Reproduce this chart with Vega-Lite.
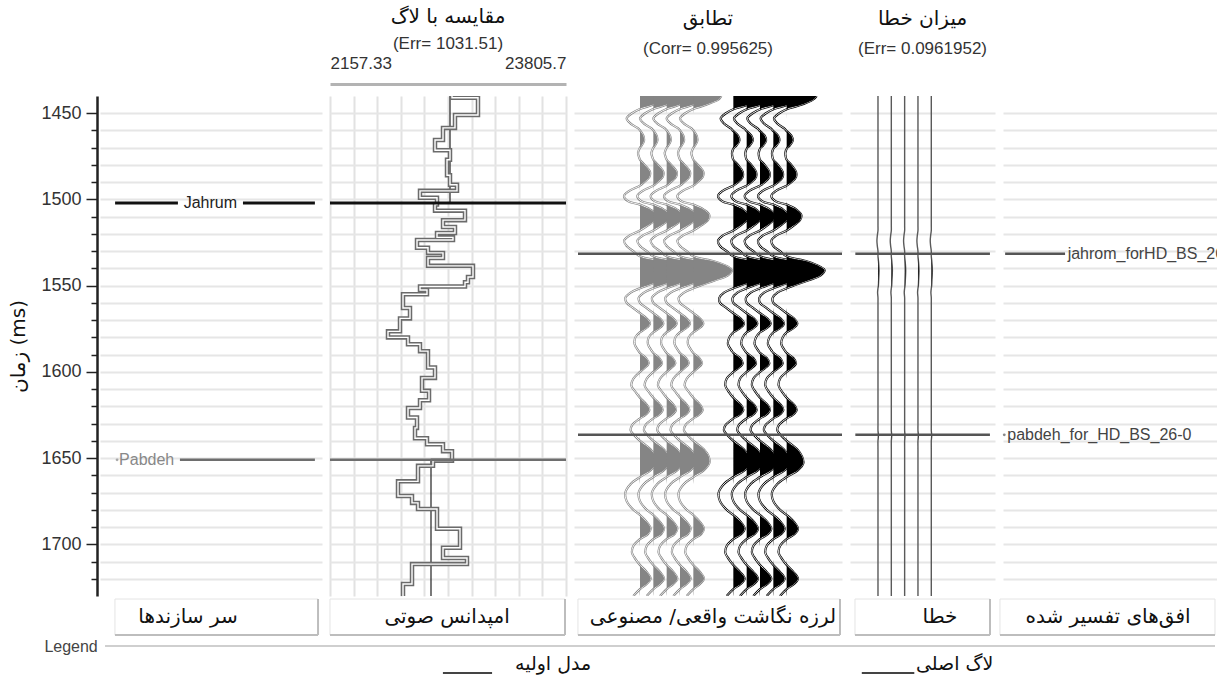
{
  "$schema": "https://vega.github.io/schema/vega-lite/v6.json",
  "background": "white",
  "padding": {"left": 8, "top": 7, "right": 0, "bottom": 0},
  "config": {
    "view": {"stroke": null},
    "axis": {"labelFont": "Liberation Sans", "titleFont": "DejaVu Sans"},
    "title": {"font": "DejaVu Sans", "fontSize": 20, "fontWeight": "normal", "color": "#111", "subtitleFont": "Liberation Sans", "subtitleFontSize": 17, "subtitleColor": "#333", "subtitlePadding": 12, "anchor": "middle"}
  },
  "datasets": {
    "tops": [{"top": "Jahrum", "t": 1502}, {"top": "Pabdeh", "t": 1651}],
    "hz": [{"hz": "jahrom_forHD_BS_26-0", "t": 1531.5}, {"hz": "pabdeh_for_HD_BS_26-0", "t": 1636.5}],
    "model": [
      {"t": 1440, "imp": 13165}, {"t": 1502, "imp": 11789}, {"t": 1506.5, "imp": 14541}, {"t": 1512, "imp": 12523},
      {"t": 1516, "imp": 13623}, {"t": 1519.5, "imp": 11973}, {"t": 1522, "imp": 13440}, {"t": 1523.5, "imp": 10138},
      {"t": 1528, "imp": 11147}, {"t": 1531, "imp": 12523}, {"t": 1534, "imp": 11147}, {"t": 1538.5, "imp": 15275},
      {"t": 1545, "imp": 14816}, {"t": 1548, "imp": 14541}, {"t": 1550.5, "imp": 10413}, {"t": 1552.5, "imp": 11055},
      {"t": 1555, "imp": 8854}, {"t": 1563, "imp": 9496}, {"t": 1569, "imp": 8578}, {"t": 1576.5, "imp": 7477},
      {"t": 1580, "imp": 9312}, {"t": 1584, "imp": 10413}, {"t": 1588, "imp": 11147}, {"t": 1597.5, "imp": 11789},
      {"t": 1603.5, "imp": 10597}, {"t": 1611, "imp": 11239}, {"t": 1616.5, "imp": 10413}, {"t": 1621, "imp": 9312},
      {"t": 1626.5, "imp": 10138}, {"t": 1632.5, "imp": 9955}, {"t": 1638.5, "imp": 11055}, {"t": 1642, "imp": 12523},
      {"t": 1646, "imp": 13348}, {"t": 1651, "imp": 11422}, {"t": 1730, "imp": 11422}
    ],
    "log": [
      {"t": 1440, "imp": 13348}, {"t": 1441, "imp": 15733}, {"t": 1451, "imp": 13623}, {"t": 1458.5, "imp": 12523},
      {"t": 1465.5, "imp": 11789}, {"t": 1471.5, "imp": 13165}, {"t": 1477, "imp": 12890}, {"t": 1486, "imp": 13165},
      {"t": 1491.5, "imp": 13807}, {"t": 1495, "imp": 10413}, {"t": 1499, "imp": 11973}, {"t": 1503, "imp": 11789},
      {"t": 1506.5, "imp": 14541}, {"t": 1512, "imp": 12523}, {"t": 1516, "imp": 13623}, {"t": 1519.5, "imp": 11973},
      {"t": 1522, "imp": 13440}, {"t": 1523.5, "imp": 10138}, {"t": 1528, "imp": 11147}, {"t": 1531, "imp": 12523},
      {"t": 1534, "imp": 11147}, {"t": 1538.5, "imp": 15275}, {"t": 1545, "imp": 14816}, {"t": 1548, "imp": 14541},
      {"t": 1550.5, "imp": 10413}, {"t": 1552.5, "imp": 11055}, {"t": 1555, "imp": 8854}, {"t": 1563, "imp": 9496},
      {"t": 1569, "imp": 8578}, {"t": 1576.5, "imp": 7477}, {"t": 1580, "imp": 9312}, {"t": 1584, "imp": 10413},
      {"t": 1588, "imp": 11147}, {"t": 1597.5, "imp": 11789}, {"t": 1603.5, "imp": 10597}, {"t": 1611, "imp": 11239},
      {"t": 1616.5, "imp": 10413}, {"t": 1621, "imp": 9312}, {"t": 1626.5, "imp": 10138}, {"t": 1632.5, "imp": 9955},
      {"t": 1638.5, "imp": 11055}, {"t": 1642, "imp": 12523}, {"t": 1646, "imp": 13348}, {"t": 1651.5, "imp": 11606},
      {"t": 1654.5, "imp": 10230}, {"t": 1663.5, "imp": 8395}, {"t": 1672, "imp": 9680}, {"t": 1676, "imp": 10230},
      {"t": 1679.5, "imp": 11973}, {"t": 1691, "imp": 14082}, {"t": 1702, "imp": 12523}, {"t": 1708, "imp": 14724},
      {"t": 1711.5, "imp": 9680}, {"t": 1723, "imp": 8854}, {"t": 1730, "imp": 8854}
    ],
    "wave": [
      {"t": 1440, "s": 2.1, "r": 2.25, "e": 0}, {"t": 1442, "s": 1.9, "r": 2.0, "e": 0}, {"t": 1444, "s": 1.3, "r": 1.45, "e": 0},
      {"t": 1446, "s": 0.6, "r": 0.7, "e": 0}, {"t": 1447.5, "s": 0, "r": 0.05, "e": 0}, {"t": 1450, "s": -0.6, "r": -0.55, "e": 0},
      {"t": 1453, "s": -1.0, "r": -0.95, "e": 0}, {"t": 1456, "s": -0.7, "r": -0.7, "e": 0}, {"t": 1459, "s": -0.1, "r": -0.15, "e": 0},
      {"t": 1460, "s": 0, "r": -0.05, "e": 0}, {"t": 1463, "s": 0.25, "r": 0.35, "e": 0}, {"t": 1466, "s": 0.3, "r": 0.45, "e": 0},
      {"t": 1469, "s": 0.1, "r": 0.2, "e": 0}, {"t": 1470, "s": 0, "r": 0.05, "e": 0}, {"t": 1473, "s": -0.15, "r": -0.1, "e": 0},
      {"t": 1476, "s": -0.05, "r": -0.05, "e": 0}, {"t": 1477, "s": 0, "r": 0, "e": 0}, {"t": 1480, "s": 0.35, "r": 0.35, "e": 0},
      {"t": 1484, "s": 0.75, "r": 0.7, "e": 0}, {"t": 1487, "s": 0.7, "r": 0.7, "e": 0}, {"t": 1490, "s": 0.3, "r": 0.35, "e": 0},
      {"t": 1492, "s": 0, "r": 0, "e": 0}, {"t": 1495, "s": -0.8, "r": -0.8, "e": 0}, {"t": 1498, "s": -1.2, "r": -1.15, "e": 0},
      {"t": 1501, "s": -0.9, "r": -0.85, "e": 0}, {"t": 1503, "s": 0, "r": 0, "e": 0}, {"t": 1506, "s": 0.8, "r": 0.75, "e": 0},
      {"t": 1509, "s": 1.2, "r": 1.1, "e": 0}, {"t": 1512, "s": 1.1, "r": 1.0, "e": 0}, {"t": 1515, "s": 0.6, "r": 0.55, "e": 0},
      {"t": 1518, "s": 0, "r": 0, "e": 0}, {"t": 1521, "s": -0.8, "r": -0.8, "e": -0.05}, {"t": 1524, "s": -1.2, "r": -1.15, "e": -0.08},
      {"t": 1527, "s": -1.0, "r": -1.0, "e": -0.05}, {"t": 1530, "s": -0.5, "r": -0.5, "e": 0}, {"t": 1533, "s": 0, "r": 0, "e": 0},
      {"t": 1536, "s": 1.6, "r": 1.55, "e": 0.04}, {"t": 1539, "s": 2.6, "r": 2.5, "e": 0.07}, {"t": 1541, "s": 2.9, "r": 2.85, "e": 0.08},
      {"t": 1544, "s": 2.6, "r": 2.55, "e": 0.07}, {"t": 1547, "s": 1.6, "r": 1.6, "e": 0.05}, {"t": 1550, "s": 0.5, "r": 0.5, "e": 0.03},
      {"t": 1551.5, "s": 0, "r": 0, "e": 0}, {"t": 1554, "s": -0.7, "r": -0.7, "e": -0.03}, {"t": 1557, "s": -1.1, "r": -1.05, "e": 0},
      {"t": 1560, "s": -1.0, "r": -1.0, "e": 0}, {"t": 1563, "s": -0.5, "r": -0.5, "e": 0}, {"t": 1566, "s": 0, "r": 0, "e": 0},
      {"t": 1569, "s": 0.5, "r": 0.55, "e": 0}, {"t": 1572, "s": 0.75, "r": 0.8, "e": 0}, {"t": 1575, "s": 0.4, "r": 0.45, "e": 0},
      {"t": 1577, "s": 0, "r": 0, "e": 0}, {"t": 1580, "s": -0.35, "r": -0.3, "e": 0}, {"t": 1584, "s": -0.4, "r": -0.4, "e": 0},
      {"t": 1588, "s": -0.1, "r": -0.1, "e": 0}, {"t": 1589, "s": 0, "r": 0, "e": 0}, {"t": 1592, "s": 0.45, "r": 0.5, "e": 0},
      {"t": 1595, "s": 0.65, "r": 0.7, "e": 0}, {"t": 1598, "s": 0.3, "r": 0.35, "e": 0}, {"t": 1600, "s": 0, "r": 0, "e": 0},
      {"t": 1604, "s": -0.5, "r": -0.5, "e": 0}, {"t": 1608, "s": -0.65, "r": -0.6, "e": 0}, {"t": 1612, "s": -0.3, "r": -0.3, "e": 0},
      {"t": 1615, "s": 0, "r": 0, "e": 0}, {"t": 1619, "s": 0.5, "r": 0.55, "e": 0}, {"t": 1622, "s": 0.7, "r": 0.75, "e": 0},
      {"t": 1625, "s": 0.4, "r": 0.45, "e": 0}, {"t": 1627, "s": 0, "r": 0, "e": 0}, {"t": 1631, "s": -0.6, "r": -0.6, "e": 0},
      {"t": 1634, "s": -0.7, "r": -0.7, "e": 0}, {"t": 1637, "s": -0.4, "r": -0.4, "e": 0.03}, {"t": 1640, "s": 0, "r": 0, "e": 0},
      {"t": 1645, "s": 0.8, "r": 0.8, "e": 0}, {"t": 1649, "s": 1.15, "r": 1.15, "e": 0}, {"t": 1653, "s": 1.2, "r": 1.25, "e": 0},
      {"t": 1657, "s": 0.8, "r": 0.85, "e": 0}, {"t": 1661, "s": 0, "r": 0, "e": 0}, {"t": 1665, "s": -0.7, "r": -0.7, "e": 0},
      {"t": 1670, "s": -1.1, "r": -1.1, "e": 0}, {"t": 1675, "s": -1.0, "r": -1.0, "e": 0}, {"t": 1680, "s": -0.5, "r": -0.5, "e": 0},
      {"t": 1683, "s": 0, "r": 0, "e": 0}, {"t": 1687, "s": 0.5, "r": 0.55, "e": 0}, {"t": 1691, "s": 0.8, "r": 0.85, "e": 0},
      {"t": 1694, "s": 0.6, "r": 0.6, "e": 0}, {"t": 1697, "s": 0, "r": 0, "e": 0}, {"t": 1701, "s": -0.5, "r": -0.5, "e": 0},
      {"t": 1705, "s": -0.6, "r": -0.6, "e": 0}, {"t": 1709, "s": -0.3, "r": -0.3, "e": 0}, {"t": 1712, "s": 0, "r": 0, "e": 0},
      {"t": 1716, "s": 0.5, "r": 0.5, "e": 0}, {"t": 1720, "s": 0.8, "r": 0.85, "e": 0}, {"t": 1723, "s": 0.5, "r": 0.55, "e": 0},
      {"t": 1726, "s": 0, "r": 0, "e": 0}, {"t": 1730, "s": -0.5, "r": -0.5, "e": 0}
    ]
  },
  "vconcat": [
    {
      "hconcat": [
        {
          "width": 222, "height": 500,
          "encoding": {"y": {"field": "t", "type": "quantitative", "scale": {"domain": [1440, 1730], "reverse": true, "nice": false, "zero": false},
            "axis": {"orient": "left", "values": [1450,1460,1470,1480,1490,1500,1510,1520,1530,1540,1550,1560,1570,1580,1590,1600,1610,1620,1630,1640,1650,1660,1670,1680,1690,1700,1710,1720],
              "tickCount": 40,
              "labelExpr": "datum.value % 50 === 0 ? format(datum.value, 'd') : ''",
              "tickSize": {"condition": {"test": "datum.value % 50 === 0", "value": 11}, "value": 6},
              "tickColor": "#222", "tickWidth": 1.5, "domainColor": "#222", "domainWidth": 2.5, "offset": 3,
              "grid": true, "gridColor": "#e6e6e6", "gridWidth": 2,
              "labelFontSize": 18, "labelColor": "#333", "labelPadding": 5, "labelOverlap": false,
              "title": "زمان (ms)", "titleFontSize": 20, "titleFontWeight": "normal", "titleColor": "#111", "titlePadding": 12}}},
          "layer": [
            {"data": {"values": [{}]}, "mark": {"type": "rule", "color": "#8a8a8a", "strokeWidth": 1.5},
             "encoding": {"x": {"datum": 0, "type": "quantitative", "scale": {"domain": [0, 100], "nice": false, "zero": false}, "axis": null}, "y": {"datum": 1440}, "y2": {"datum": 1730}}},
            {"data": {"values": [{}]}, "mark": {"type": "rule", "color": "#5c5c5c", "strokeWidth": 2}, "encoding": {"y": {"datum": 1440}}},
            {"data": {"name": "tops"}, "transform": [{"filter": "datum.top === 'Jahrum'"}], "mark": {"type": "rule", "color": "#111", "strokeWidth": 3},
             "encoding": {"x": {"datum": 6.8}, "x2": {"datum": 35.1}}},
            {"data": {"name": "tops"}, "transform": [{"filter": "datum.top === 'Jahrum'"}], "mark": {"type": "rule", "color": "#111", "strokeWidth": 3},
             "encoding": {"x": {"datum": 64.4}, "x2": {"datum": 96.8}}},
            {"data": {"name": "tops"}, "transform": [{"filter": "datum.top === 'Jahrum'"}], "mark": {"type": "text", "font": "Liberation Sans", "fontSize": 16, "color": "#222", "align": "center", "baseline": "middle"},
             "encoding": {"x": {"datum": 49.7}, "text": {"field": "top"}}},
            {"data": {"name": "tops"}, "transform": [{"filter": "datum.top === 'Pabdeh'"}], "mark": {"type": "point", "filled": true, "size": 8, "color": "#888"},
             "encoding": {"x": {"datum": 7.7}}},
            {"data": {"name": "tops"}, "transform": [{"filter": "datum.top === 'Pabdeh'"}], "mark": {"type": "text", "font": "Liberation Sans", "fontSize": 16, "color": "#888", "align": "left", "baseline": "middle"},
             "encoding": {"x": {"datum": 8.6}, "text": {"field": "top"}}},
            {"data": {"name": "tops"}, "transform": [{"filter": "datum.top === 'Pabdeh'"}], "mark": {"type": "rule", "color": "#6e6e6e", "strokeWidth": 2.5},
             "encoding": {"x": {"datum": 36}, "x2": {"datum": 96.8}}}
          ]
        },
        {
          "width": 236, "height": 500,
          "title": {"text": "مقایسه با لاگ", "subtitle": "(Err= 1031.51)", "offset": 2, "subtitlePadding": 9},
          "encoding": {"y": {"field": "t", "type": "quantitative", "scale": {"domain": [1440, 1730], "reverse": true, "nice": false, "zero": false},
            "axis": {"values": [1450,1460,1470,1480,1490,1500,1510,1520,1530,1540,1550,1560,1570,1580,1590,1600,1610,1620,1630,1640,1650,1660,1670,1680,1690,1700,1710,1720],
              "tickCount": 40, "grid": true, "gridColor": "#e6e6e6", "gridWidth": 2, "labels": false, "ticks": false, "domain": false, "title": null}}},
          "layer": [
            {"data": {"name": "model"}, "mark": {"type": "line", "color": "#222", "strokeWidth": 1.2, "interpolate": "step-before", "clip": true},
             "encoding": {"x": {"field": "imp", "type": "quantitative", "scale": {"domain": [2157.33, 23805.7], "nice": false, "zero": false},
               "axis": {"orient": "top", "values": [2157.33, 4322.17, 6487.0, 8651.84, 10816.67, 12981.52, 15146.35, 17311.19, 19476.03, 21640.86, 23805.7],
                 "tickCount": 20, "grid": true, "gridColor": "#e2e2e2", "gridWidth": 2, "ticks": false, "labelFlush": true, "labelOverlap": false,
                 "labelExpr": "datum.value < 3000 ? '2157.33' : datum.value > 23000 ? '23805.7' : ''",
                 "labelFontSize": 17, "labelColor": "#333", "labelPadding": 12, "domainColor": "#b3b3b3", "domainWidth": 3, "offset": 12, "title": null}},
               "order": {"field": "t", "type": "quantitative"}}},
            {"data": {"name": "log"}, "mark": {"type": "line", "color": "#6b6b6b", "strokeWidth": 4.5, "interpolate": "step-before", "clip": true},
             "encoding": {"x": {"field": "imp", "type": "quantitative"}, "order": {"field": "t", "type": "quantitative"}}},
            {"data": {"name": "log"}, "mark": {"type": "line", "color": "#ffffff", "strokeWidth": 1.4, "interpolate": "step-before", "clip": true},
             "encoding": {"x": {"field": "imp", "type": "quantitative"}, "order": {"field": "t", "type": "quantitative"}}},
            {"data": {"values": [{}]}, "mark": {"type": "rule", "color": "#5c5c5c", "strokeWidth": 2}, "encoding": {"y": {"datum": 1440}}},
            {"data": {"name": "tops"}, "transform": [{"filter": "datum.top === 'Jahrum'"}], "mark": {"type": "rule", "color": "#111", "strokeWidth": 3}},
            {"data": {"name": "tops"}, "transform": [{"filter": "datum.top === 'Pabdeh'"}], "mark": {"type": "rule", "color": "#6e6e6e", "strokeWidth": 2.5}}
          ]
        },
        {
          "width": 268, "height": 500,
          "title": {"text": "تطابق", "subtitle": "(Corr= 0.995625)", "offset": 39},
          "encoding": {"y": {"field": "t", "type": "quantitative", "scale": {"domain": [1440, 1730], "reverse": true, "nice": false, "zero": false},
            "axis": {"values": [1450,1460,1470,1480,1490,1500,1510,1520,1530,1540,1550,1560,1570,1580,1590,1600,1610,1620,1630,1640,1650,1660,1670,1680,1690,1700,1710,1720],
              "tickCount": 40, "grid": true, "gridColor": "#e6e6e6", "gridWidth": 2, "labels": false, "ticks": false, "domain": false, "title": null}}},
          "layer": [
            {"data": {"values": [{}]}, "mark": {"type": "rule", "color": "#5c5c5c", "strokeWidth": 2}, "encoding": {"y": {"datum": 1440}}},
            {"data": {"name": "wave"},
             "transform": [{"fold": ["s", "r"], "as": ["grp", "amp"]}, {"calculate": "datum.grp === 's' ? [5,6,7,8,9] : [12,13,14,15,16]", "as": "tr"}, {"flatten": ["tr"]},
               {"calculate": "datum.tr + datum.amp", "as": "xw"}],
             "mark": {"type": "line", "strokeWidth": 2.2, "interpolate": "catmull-rom", "clip": true},
             "encoding": {"x": {"field": "xw", "type": "quantitative", "scale": {"domain": [0.05, 20.15], "nice": false, "zero": false}, "axis": null},
               "detail": {"field": "tr", "type": "nominal"},
               "color": {"field": "grp", "type": "nominal", "scale": {"domain": ["s", "r"], "range": ["#858585", "#000000"]}, "legend": null},
               "order": {"field": "t", "type": "quantitative"}}},
            {"data": {"name": "wave"},
             "transform": [{"fold": ["s", "r"], "as": ["grp", "amp"]}, {"calculate": "datum.grp === 's' ? [5,6,7,8,9] : [12,13,14,15,16]", "as": "tr"}, {"flatten": ["tr"]},
               {"calculate": "datum.tr + datum.amp", "as": "xw"}],
             "mark": {"type": "line", "strokeWidth": 0.9, "color": "#ffffff", "interpolate": "catmull-rom", "clip": true},
             "encoding": {"x": {"field": "xw", "type": "quantitative"},
               "detail": [{"field": "grp", "type": "nominal"}, {"field": "tr", "type": "nominal"}],
               "order": {"field": "t", "type": "quantitative"}}},
            {"data": {"name": "wave"},
             "transform": [{"fold": ["s", "r"], "as": ["grp", "amp"]}, {"calculate": "datum.grp === 's' ? [5,6,7,8,9] : [12,13,14,15,16]", "as": "tr"}, {"flatten": ["tr"]},
               {"calculate": "datum.tr + max(datum.amp, 0)", "as": "xf"}],
             "mark": {"type": "area", "orient": "horizontal", "interpolate": "catmull-rom", "clip": true},
             "encoding": {"x": {"field": "xf", "type": "quantitative"}, "x2": {"field": "tr"},
               "detail": {"field": "tr", "type": "nominal"},
               "color": {"field": "grp", "type": "nominal", "legend": null}}},
            {"data": {"name": "hz"}, "mark": {"type": "rule", "color": "#555", "strokeWidth": 2.5},
             "encoding": {"x": {"datum": 0.35}, "x2": {"datum": 20.15}}}
          ]
        },
        {
          "width": 145, "height": 500,
          "title": {"text": "میزان خطا", "subtitle": "(Err= 0.0961952)", "offset": 39},
          "encoding": {"y": {"field": "t", "type": "quantitative", "scale": {"domain": [1440, 1730], "reverse": true, "nice": false, "zero": false},
            "axis": {"values": [1450,1460,1470,1480,1490,1500,1510,1520,1530,1540,1550,1560,1570,1580,1590,1600,1610,1620,1630,1640,1650,1660,1670,1680,1690,1700,1710,1720],
              "tickCount": 40, "grid": true, "gridColor": "#e6e6e6", "gridWidth": 2, "labels": false, "ticks": false, "domain": false, "title": null}}},
          "layer": [
            {"data": {"values": [{}]}, "mark": {"type": "rule", "color": "#5c5c5c", "strokeWidth": 2}, "encoding": {"y": {"datum": 1440}}},
            {"data": {"name": "wave"},
             "transform": [{"calculate": "[2,3,4,5,6]", "as": "tr"}, {"flatten": ["tr"]}, {"calculate": "datum.tr + datum.e", "as": "xw"}],
             "mark": {"type": "line", "strokeWidth": 1.4, "color": "#5a5a5a", "interpolate": "catmull-rom", "clip": true},
             "encoding": {"x": {"field": "xw", "type": "quantitative", "scale": {"domain": [-0.1, 10.78], "nice": false, "zero": false}, "axis": null},
               "detail": {"field": "tr", "type": "nominal"}, "order": {"field": "t", "type": "quantitative"}}},
            {"data": {"name": "wave"},
             "transform": [{"calculate": "[2,3,4,5,6]", "as": "tr"}, {"flatten": ["tr"]}, {"calculate": "datum.tr + max(datum.e, 0)", "as": "xf"}],
             "mark": {"type": "area", "orient": "horizontal", "interpolate": "catmull-rom", "color": "#222", "clip": true},
             "encoding": {"x": {"field": "xf", "type": "quantitative"}, "x2": {"field": "tr"}, "detail": {"field": "tr", "type": "nominal"}}},
            {"data": {"name": "hz"}, "mark": {"type": "rule", "color": "#555", "strokeWidth": 2.5},
             "encoding": {"x": {"datum": 0.3}, "x2": {"datum": 10.4}}}
          ]
        },
        {
          "width": 214, "height": 500,
          "encoding": {"y": {"field": "t", "type": "quantitative", "scale": {"domain": [1440, 1730], "reverse": true, "nice": false, "zero": false},
            "axis": {"values": [1450,1460,1470,1480,1490,1500,1510,1520,1530,1540,1550,1560,1570,1580,1590,1600,1610,1620,1630,1640,1650,1660,1670,1680,1690,1700,1710,1720],
              "tickCount": 40, "grid": true, "gridColor": "#e6e6e6", "gridWidth": 2, "labels": false, "ticks": false, "domain": false, "title": null}}},
          "layer": [
            {"data": {"values": [{}]}, "mark": {"type": "rule", "color": "#5c5c5c", "strokeWidth": 2}, "encoding": {"y": {"datum": 1440}}},
            {"data": {"values": [{}]}, "mark": {"type": "rule", "color": "#8a8a8a", "strokeWidth": 1.5},
             "encoding": {"x": {"datum": 0.953, "type": "quantitative", "scale": {"domain": [0, 1], "nice": false, "zero": false}, "axis": null}, "y": {"datum": 1440}, "y2": {"datum": 1730}}},
            {"data": {"name": "hz"}, "transform": [{"filter": "indexof(datum.hz, 'jahrom') === 0"}], "mark": {"type": "rule", "color": "#555", "strokeWidth": 2.5},
             "encoding": {"x": {"datum": 0.01}, "x2": {"datum": 0.29}}},
            {"data": {"name": "hz"}, "transform": [{"filter": "indexof(datum.hz, 'jahrom') === 0"}], "mark": {"type": "text", "font": "Liberation Sans", "fontSize": 16, "color": "#444", "align": "left", "baseline": "middle", "clip": true},
             "encoding": {"x": {"datum": 0.302}, "text": {"field": "hz"}}},
            {"data": {"name": "hz"}, "transform": [{"filter": "indexof(datum.hz, 'pabdeh') === 0"}], "mark": {"type": "point", "filled": true, "size": 8, "color": "#555"},
             "encoding": {"x": {"datum": 0.006}}},
            {"data": {"name": "hz"}, "transform": [{"filter": "indexof(datum.hz, 'pabdeh') === 0"}], "mark": {"type": "text", "font": "Liberation Sans", "fontSize": 16, "color": "#444", "align": "left", "baseline": "middle", "clip": true},
             "encoding": {"x": {"datum": 0.02}, "text": {"field": "hz"}}}
          ]
        }
      ],
      "spacing": 8,
      "bounds": "flush"
    },
    {
      "width": 1117, "height": 70,
      "layer": [
        {"data": {"values": [{}]}, "mark": {"type": "rect", "fill": "#ffffff", "stroke": "#e4e4e4", "strokeWidth": 1},
         "encoding": {"x": {"datum": 0.0134, "type": "quantitative", "scale": {"domain": [0, 1], "nice": false, "zero": false}, "axis": null}, "x2": {"datum": 0.1952},
           "y": {"datum": 0.486, "type": "quantitative", "scale": {"domain": [0, 1], "nice": false, "zero": false}, "axis": null}, "y2": {"datum": 1}}},
        {"data": {"values": [{}]}, "mark": {"type": "rect", "fill": "#ffffff", "stroke": "#e4e4e4", "strokeWidth": 1}, "encoding": {"x": {"datum": 0.2059}, "x2": {"datum": 0.4163}, "y": {"datum": 0.486}, "y2": {"datum": 1}}},
        {"data": {"values": [{}]}, "mark": {"type": "rect", "fill": "#ffffff", "stroke": "#e4e4e4", "strokeWidth": 1}, "encoding": {"x": {"datum": 0.4279}, "x2": {"datum": 0.6625}, "y": {"datum": 0.486}, "y2": {"datum": 1}}},
        {"data": {"values": [{}]}, "mark": {"type": "rect", "fill": "#ffffff", "stroke": "#e4e4e4", "strokeWidth": 1}, "encoding": {"x": {"datum": 0.6759}, "x2": {"datum": 0.7968}, "y": {"datum": 0.486}, "y2": {"datum": 1}}},
        {"data": {"values": [{}]}, "mark": {"type": "rect", "fill": "#ffffff", "stroke": "#e4e4e4", "strokeWidth": 1}, "encoding": {"x": {"datum": 0.8057}, "x2": {"datum": 0.9982}, "y": {"datum": 0.486}, "y2": {"datum": 1}}},
        {"data": {"values": [{}]}, "mark": {"type": "rule", "color": "#bdbdbd", "strokeWidth": 2}, "encoding": {"x": {"datum": 0.1952}, "y": {"datum": 0.486}, "y2": {"datum": 1}}},
        {"data": {"values": [{}]}, "mark": {"type": "rule", "color": "#bdbdbd", "strokeWidth": 2}, "encoding": {"x": {"datum": 0.4163}, "y": {"datum": 0.486}, "y2": {"datum": 1}}},
        {"data": {"values": [{}]}, "mark": {"type": "rule", "color": "#bdbdbd", "strokeWidth": 2}, "encoding": {"x": {"datum": 0.6625}, "y": {"datum": 0.486}, "y2": {"datum": 1}}},
        {"data": {"values": [{}]}, "mark": {"type": "rule", "color": "#bdbdbd", "strokeWidth": 2}, "encoding": {"x": {"datum": 0.7968}, "y": {"datum": 0.486}, "y2": {"datum": 1}}},
        {"data": {"values": [{}]}, "mark": {"type": "rule", "color": "#bdbdbd", "strokeWidth": 2}, "encoding": {"x": {"datum": 0.0134}, "x2": {"datum": 0.1952}, "y": {"datum": 0.486}}},
        {"data": {"values": [{}]}, "mark": {"type": "rule", "color": "#bdbdbd", "strokeWidth": 2}, "encoding": {"x": {"datum": 0.2059}, "x2": {"datum": 0.4163}, "y": {"datum": 0.486}}},
        {"data": {"values": [{}]}, "mark": {"type": "rule", "color": "#bdbdbd", "strokeWidth": 2}, "encoding": {"x": {"datum": 0.4279}, "x2": {"datum": 0.6625}, "y": {"datum": 0.486}}},
        {"data": {"values": [{}]}, "mark": {"type": "rule", "color": "#bdbdbd", "strokeWidth": 2}, "encoding": {"x": {"datum": 0.6759}, "x2": {"datum": 0.7968}, "y": {"datum": 0.486}}},
        {"data": {"values": [{}]}, "mark": {"type": "rule", "color": "#bdbdbd", "strokeWidth": 2}, "encoding": {"x": {"datum": 0.8057}, "x2": {"datum": 0.9982}, "y": {"datum": 0.486}}},
        {"data": {"values": [{"label": "سر سازندها"}]}, "mark": {"type": "text", "font": "DejaVu Sans", "fontSize": 20, "color": "#111", "baseline": "middle"},
         "encoding": {"x": {"datum": 0.0788}, "y": {"datum": 0.743}, "text": {"field": "label"}}},
        {"data": {"values": [{"label": "امپدانس صوتی"}]}, "mark": {"type": "text", "font": "DejaVu Sans", "fontSize": 20, "color": "#111", "baseline": "middle"},
         "encoding": {"x": {"datum": 0.3107}, "y": {"datum": 0.743}, "text": {"field": "label"}}},
        {"data": {"values": [{"label": "لرزه نگاشت واقعی/ مصنوعی"}]}, "mark": {"type": "text", "font": "DejaVu Sans", "fontSize": 20, "color": "#111", "baseline": "middle"},
         "encoding": {"x": {"datum": 0.5488}, "y": {"datum": 0.743}, "text": {"field": "label"}}},
        {"data": {"values": [{"label": "خطا"}]}, "mark": {"type": "text", "font": "DejaVu Sans", "fontSize": 20, "color": "#111", "baseline": "middle"},
         "encoding": {"x": {"datum": 0.752}, "y": {"datum": 0.743}, "text": {"field": "label"}}},
        {"data": {"values": [{"label": "افق‌های تفسیر شده"}]}, "mark": {"type": "text", "font": "DejaVu Sans", "fontSize": 20, "color": "#111", "baseline": "middle"},
         "encoding": {"x": {"datum": 0.9024}, "y": {"datum": 0.743}, "text": {"field": "label"}}},
        {"data": {"values": [{"label": "Legend"}]}, "mark": {"type": "text", "font": "Liberation Sans", "fontSize": 16, "color": "#444", "align": "right", "baseline": "middle"},
         "encoding": {"x": {"datum": -0.002}, "y": {"datum": 0.314}, "text": {"field": "label"}}},
        {"data": {"values": [{}]}, "mark": {"type": "rule", "color": "#cfcfcf", "strokeWidth": 2}, "encoding": {"x": {"datum": 0.0045}, "x2": {"datum": 0.9982}, "y": {"datum": 0.329}}},
        {"data": {"values": [{}]}, "mark": {"type": "rule", "color": "#444", "strokeWidth": 2}, "encoding": {"x": {"datum": 0.307}, "x2": {"datum": 0.351}, "y": {"datum": -0.057}}},
        {"data": {"values": [{"label": "مدل اولیه"}]}, "mark": {"type": "text", "font": "DejaVu Sans", "fontSize": 19, "color": "#111", "align": "left", "baseline": "middle"},
         "encoding": {"x": {"datum": 0.3715}, "y": {"datum": 0.071}, "text": {"field": "label"}}},
        {"data": {"values": [{}]}, "mark": {"type": "rule", "color": "#444", "strokeWidth": 2}, "encoding": {"x": {"datum": 0.682}, "x2": {"datum": 0.729}, "y": {"datum": -0.057}}},
        {"data": {"values": [{"label": "لاگ اصلی"}]}, "mark": {"type": "text", "font": "DejaVu Sans", "fontSize": 19, "color": "#111", "align": "left", "baseline": "middle"},
         "encoding": {"x": {"datum": 0.7305}, "y": {"datum": 0.071}, "text": {"field": "label"}}}
      ]
    }
  ],
  "spacing": 2
}
